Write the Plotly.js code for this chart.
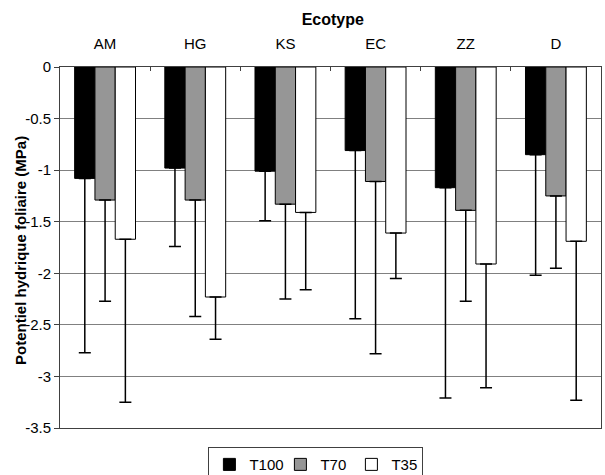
<!DOCTYPE html>
<html>
<head>
<meta charset="utf-8">
<script src="https://cdn.plot.ly/plotly-3.0.1.min.js"></script>
<style>html,body{margin:0;padding:0;background:#fff;}#chart{width:605px;height:475px;}</style>
</head>
<body>
<div id="chart"></div>
<script>
const ecotypes = ['AM', 'HG', 'KS', 'EC', 'ZZ', 'D'];
const seriesNames = ['T100', 'T70', 'T35'];
const t100 = [-1.08, -0.98, -1.01, -0.81, -1.17, -0.85];
const t70 = [-1.29, -1.29, -1.33, -1.11, -1.39, -1.25];
const t35 = [-1.67, -2.23, -1.41, -1.61, -1.91, -1.69];
const t100Err = [1.69, 0.76, 0.48, 1.63, 2.04, 1.17];
const t70Err = [0.98, 1.13, 0.92, 1.67, 0.88, 0.70];
const t35Err = [1.58, 0.41, 0.75, 0.44, 1.20, 1.54];
const yTicks = [0, -0.5, -1, -1.5, -2, -2.5, -3, -3.5];
const yTickLabels = ['0', '-0.5', '-1', '-1.5', '-2', '-2.5', '-3', '-3.5'];
const xTitle = 'Ecotype';
const yTitle = 'Potentiel hydrique foliaire (MPa)';

const FONT = 'Liberation Sans, Arial, sans-serif';
const colors = ['#000000', '#969696', '#ffffff'];
const values = [t100, t70, t35];
const errs = [t100Err, t70Err, t35Err];

const traces = seriesNames.map((name, i) => ({
  type: 'bar',
  name: name,
  x: ecotypes,
  y: values[i],
  marker: {color: colors[i], line: {color: '#000000', width: 1}},
  error_y: {
    type: 'data',
    symmetric: false,
    array: values[i].map(() => 0),
    arrayminus: errs[i],
    color: '#000000',
    thickness: 1.5,
    width: 6
  },
  hoverinfo: 'skip'
}));

const layout = {
  width: 605,
  height: 475,
  margin: {l: 60, r: 4, t: 67, b: 47, autoexpand: false},
  paper_bgcolor: '#ffffff',
  plot_bgcolor: '#ffffff',
  font: {family: FONT, size: 15, color: '#000000'},
  barmode: 'group',
  bargap: 0.325,
  bargroupgap: 0,
  title: {
    text: '<b>' + xTitle + '</b>',
    font: {family: FONT, size: 16, color: '#000000'},
    xref: 'container', yref: 'container',
    x: 0.55, xanchor: 'center',
    y: 0.96, yanchor: 'middle'
  },
  xaxis: {
    side: 'top',
    type: 'category',
    tickson: 'boundaries',
    ticks: 'inside',
    ticklen: 4,
    tickcolor: '#404040',
    showline: true,
    linecolor: '#404040',
    linewidth: 1,
    mirror: true,
    showgrid: false,
    tickfont: {family: FONT, size: 15, color: '#000000'},
    ticklabelstandoff: 11
  },
  yaxis: {
    range: [-3.5, 0],
    tickvals: yTicks,
    ticktext: yTickLabels,
    ticks: 'outside',
    ticklen: 5,
    tickcolor: '#404040',
    showline: true,
    linecolor: '#404040',
    linewidth: 1,
    mirror: true,
    showgrid: true,
    gridcolor: '#808080',
    gridwidth: 1,
    zeroline: false,
    tickfont: {family: FONT, size: 15, color: '#000000'}
  },
  annotations: [{
    text: '<b>' + yTitle + '</b>',
    xref: 'paper', yref: 'paper',
    x: -0.074, y: 0.493,
    xanchor: 'center', yanchor: 'middle',
    textangle: -90,
    showarrow: false,
    font: {family: FONT, size: 15, color: '#000000'}
  }],
  showlegend: true,
  legend: {
    orientation: 'h',
    x: 0.473, xanchor: 'center',
    y: -0.053, yanchor: 'top',
    bordercolor: '#404040',
    borderwidth: 1,
    bgcolor: '#ffffff',
    font: {family: FONT, size: 15, color: '#000000'},
    itemwidth: 30,
    entrywidthmode: 'pixels',
    entrywidth: 26,
    traceorder: 'normal'
  }
};

Plotly.newPlot('chart', traces, layout, {staticPlot: true, displayModeBar: false});
</script>
</body>
</html>
